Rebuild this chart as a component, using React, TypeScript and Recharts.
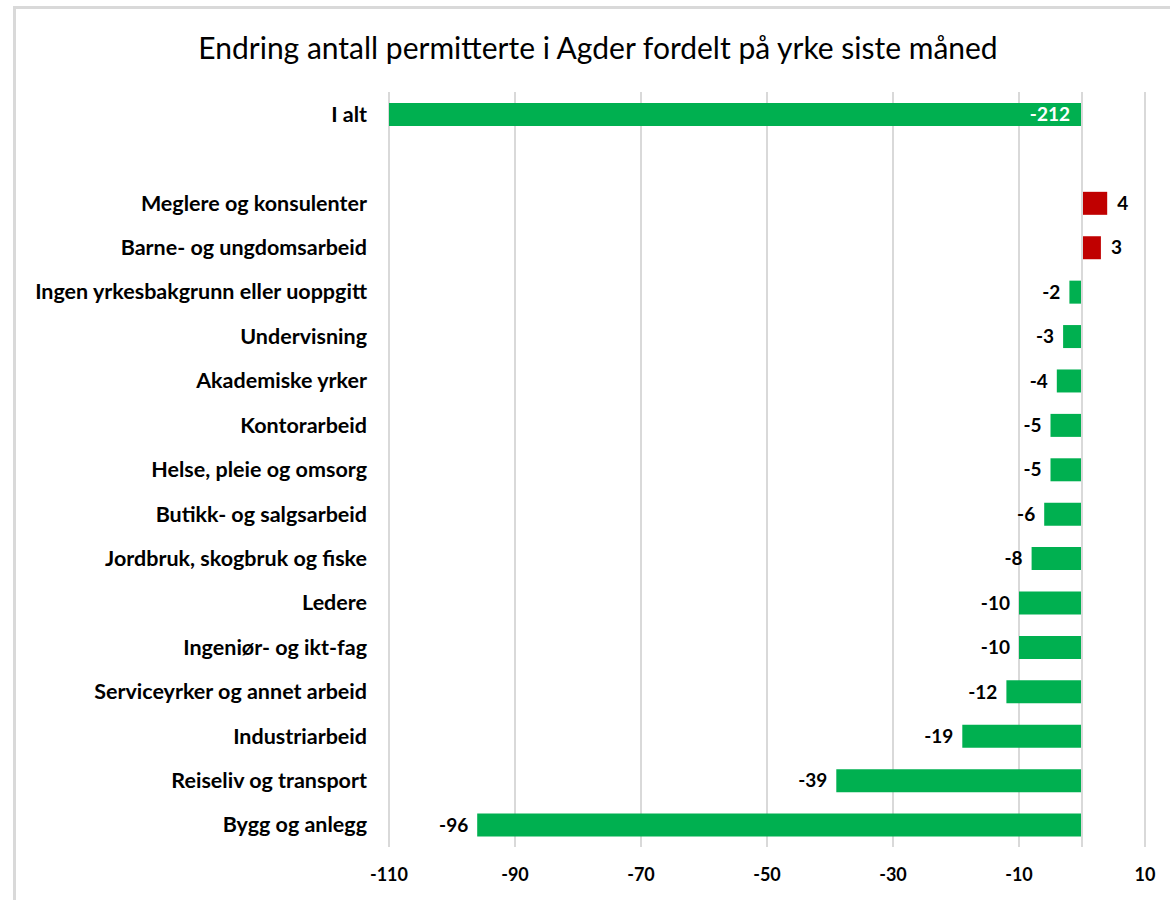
import React from 'react';
import { BarChart, Bar, XAxis, YAxis, CartesianGrid, ReferenceLine, LabelList, Cell } from 'recharts';

const categories = [
  'I alt',
  '',
  'Meglere og konsulenter',
  'Barne- og ungdomsarbeid',
  'Ingen yrkesbakgrunn eller uoppgitt',
  'Undervisning',
  'Akademiske yrker',
  'Kontorarbeid',
  'Helse, pleie og omsorg',
  'Butikk- og salgsarbeid',
  'Jordbruk, skogbruk og fiske',
  'Ledere',
  'Ingeniør- og ikt-fag',
  'Serviceyrker og annet arbeid',
  'Industriarbeid',
  'Reiseliv og transport',
  'Bygg og anlegg',
];
const changes: (number | null)[] = [-212, null, 4, 3, -2, -3, -4, -5, -5, -6, -8, -10, -10, -12, -19, -39, -96];
const xTicks = [-110, -90, -70, -50, -30, -10, 10];

const X_MIN = -110;
const GREEN = '#00b050';
const RED = '#c00000';
const FONT = 'Lato, "Open Sans", sans-serif';

const data = categories.map((name, i) => ({ name, value: changes[i] }));

// value labels: outside the bar end, white inside when the bar runs off the axis
const renderLabel = (props: any) => {
  const { x, y, width, height, value } = props;
  if (value === null || value === undefined) return null;
  const left = Math.min(x, x + width);
  const right = Math.max(x, x + width);
  const cy = y + height / 2;
  let tx = right + 10;
  let anchor: 'start' | 'end' = 'start';
  let fill = '#000';
  if (value < X_MIN) {
    tx = right - 12;
    anchor = 'end';
    fill = '#fff';
  } else if (value < 0) {
    tx = left - 9;
    anchor = 'end';
  }
  return (
    <text x={tx} y={cy} dy="0.35em" textAnchor={anchor} fill={fill} fontSize={19} fontWeight={700} fontFamily={FONT}>
      {value}
    </text>
  );
};

const App = () => {
  return (
    <div style={{ position: 'absolute', left: 0, top: 0, width: 1170, height: 900, overflow: 'hidden', background: '#fff' }}>
      <div
        style={{
          position: 'absolute', left: 13, top: 6, width: 1300, height: 1000,
          borderLeft: '3px solid #d9d9d9', borderTop: '3px solid #d9d9d9',
        }}
      />
      <div
        style={{
          position: 'absolute', left: 0, top: 28, width: 1196, textAlign: 'center',
          fontFamily: FONT, fontSize: 30, color: '#000', lineHeight: '38px',
        }}
      >
        Endring antall permitterte i Agder fordelt på yrke siste måned
      </div>
      <div style={{ position: 'absolute', left: 0, top: 0 }}>
        <BarChart
          width={1170}
          height={900}
          data={data}
          layout="vertical"
          margin={{ top: 92, right: 25, bottom: 13, left: 0 }}
          barSize={23}
        >
          <CartesianGrid horizontal={false} stroke="#d9d9d9" strokeWidth={2} />
          <XAxis
            type="number"
            domain={[-110, 10]}
            ticks={xTicks}
            allowDataOverflow
            axisLine={false}
            tickLine={false}
            tickSize={0}
            tickMargin={21}
            height={40}
            tick={{ fill: '#000', fontSize: 18, fontWeight: 700, fontFamily: FONT }}
          />
          <YAxis
            type="category"
            dataKey="name"
            width={389}
            axisLine={false}
            tickLine={false}
            tickSize={0}
            tickMargin={22}
            interval={0}
            tick={{ fill: '#000', fontSize: 21.5, fontWeight: 700, fontFamily: FONT }}
          />
          <ReferenceLine x={0} stroke="#d9d9d9" strokeWidth={2} />
          <Bar dataKey="value" isAnimationActive={false}>
            {data.map((d, i) => (
              <Cell key={i} fill={d.value !== null && d.value > 0 ? RED : GREEN} />
            ))}
            <LabelList dataKey="value" content={renderLabel} />
          </Bar>
        </BarChart>
      </div>
    </div>
  );
};

export default App;
